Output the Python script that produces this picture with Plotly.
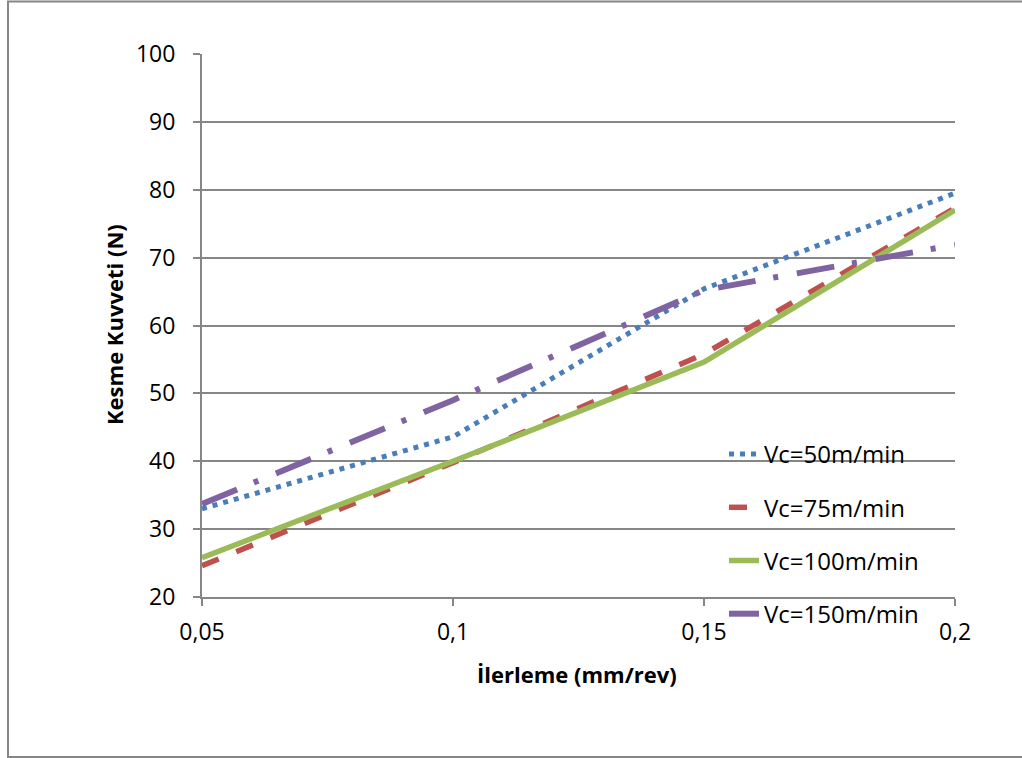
import plotly.graph_objects as go

feed = [0.05, 0.10, 0.15, 0.20]
vc50 = [33.0, 43.6, 65.4, 79.5]
vc75 = [24.6, 39.8, 55.8, 77.3]
vc100 = [25.8, 40.0, 54.6, 77.0]
vc150 = [33.7, 49.0, 65.2, 71.9]

series_names = ["Vc=50m/min", "Vc=75m/min", "Vc=100m/min", "Vc=150m/min"]
x_ticks = [0.05, 0.10, 0.15, 0.20]
x_tick_text = ["0,05", "0,1", "0,15", "0,2"]
y_ticks = [20, 30, 40, 50, 60, 70, 80, 90, 100]

FONT = "Open Sans"
styles = [
    dict(color="#4A7EBB", width=5, dash="5px,6px"),
    dict(color="#C0504D", width=5.5, dash="18px,19px"),
    dict(color="#9BBB59", width=5.5, dash="solid"),
    dict(color="#8064A2", width=6, dash="38px,18px,5px,19px"),
]

fig = go.Figure()
for i, (name, ys) in enumerate(zip(series_names, [vc50, vc75, vc100, vc150])):
    fig.add_trace(go.Scatter(x=feed, y=ys, mode="lines", name=name,
                             legendgroup=f"g{i}", line=styles[i]))

W, H = 1022, 758
L, R, T, B = 202, 955, 54, 597
pw, ph = R - L, B - T

def px(x):
    return (x - L) / pw

def py(y):
    return (B - y) / ph

fig.update_layout(
    width=W, height=H,
    margin=dict(l=L, r=W - R, t=T, b=H - B, pad=0),
    paper_bgcolor="white", plot_bgcolor="white",
    font=dict(family=FONT, size=23, color="black"),
    showlegend=True,
    legend=dict(x=px(724), y=py(432), xanchor="left", yanchor="top",
                bgcolor="rgba(0,0,0,0)", tracegroupgap=19,
                font=dict(family=FONT, size=24), traceorder="grouped"),
    xaxis=dict(range=[0.05, 0.2], tickvals=x_ticks, ticktext=x_tick_text,
               showgrid=False, zeroline=False, showline=True, linecolor="#868686",
               linewidth=2, ticks="outside", ticklen=7, tickcolor="#868686",
               tickwidth=2, ticklabelstandoff=6, tickfont=dict(size=23)),
    yaxis=dict(range=[20, 100], tickvals=y_ticks, showgrid=True, gridcolor="#868686",
               gridwidth=2, zeroline=False, showline=True, linecolor="#868686",
               linewidth=2, ticks="outside", ticklen=7, tickcolor="#868686",
               tickwidth=2, ticklabelstandoff=13, tickfont=dict(size=23)),
    annotations=[
        dict(text="<b>İlerleme (mm/rev)</b>", xref="paper", yref="paper",
             x=px(577), y=py(674), xanchor="center", yanchor="middle",
             showarrow=False, font=dict(family=FONT, size=22)),
        dict(text="<b>Kesme Kuvveti (N)</b>", xref="paper", yref="paper",
             x=px(114), y=py(325), xanchor="center", yanchor="middle",
             textangle=-90, showarrow=False, font=dict(family=FONT, size=22)),
    ],
    shapes=[
        dict(type="rect", xref="paper", yref="paper",
             x0=px(8), x1=px(1030), y0=py(757), y1=py(1.5),
             line=dict(color="#868686", width=2), fillcolor="rgba(0,0,0,0)",
             layer="below"),
    ],
)

fig.write_html("out.html")
